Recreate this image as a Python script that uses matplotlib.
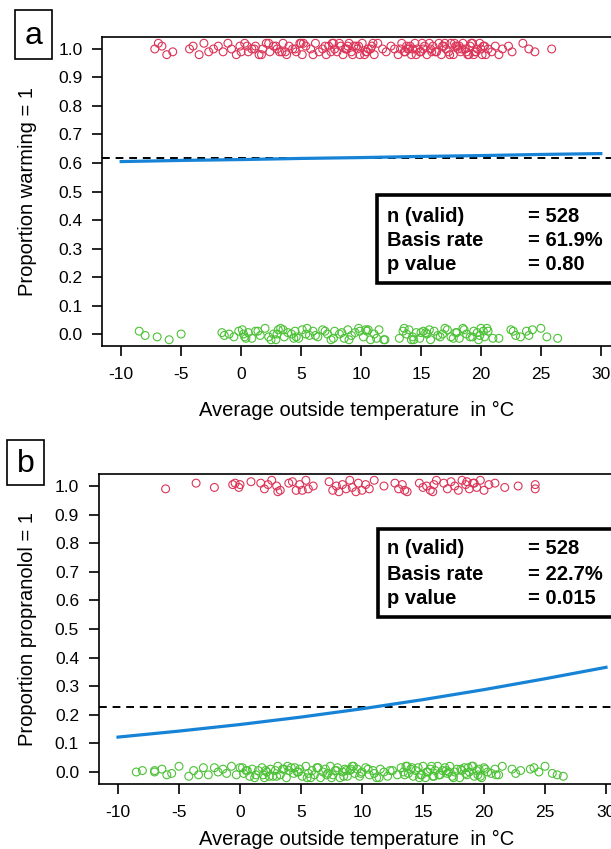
import matplotlib
matplotlib.use("Agg")
from matplotlib import pyplot as plt
from matplotlib.patches import Rectangle
import numpy as np

plt.rcParams['font.family'] = ['Liberation Sans', 'DejaVu Sans']
plt.rcParams['axes.unicode_minus'] = False

W, H = 611, 849

# ---- data ----
# panel a: outcome warming (1 = red, 0 = green); y offsets in hundredths
warm_a_x = [-7.2, -6.9, -6.6, -6.2, -5.7, -4.3, -4.0, -3.5, -3.1, -2.7,
            -2.3, -1.9, -1.5, -1.1, -0.8, -0.4, -0.1, 0.3, 0.6, 0.9,
            1.2, 1.5, 1.8, 2.1, 2.4, 2.7, 3.0, 3.2, 3.5, 3.8,
            4.0, 4.3, 4.6, 4.9, 5.1, 5.4, 5.8, 6.2, 6.5, 6.8,
            7.1, 7.3, 7.6, 7.8, 8.0, 8.3, 8.5, 8.7, 9.0, 9.2,
            9.4, 9.7, 9.9, 10.1, 10.4, 10.6, 10.9, 11.1, 11.4, 11.8,
            12.1, 12.5, 12.8, 13.1, 13.4, 13.6, 13.8, 14.0, 14.2, 14.5,
            14.7, 14.9, 15.1, 15.3, 15.5, 15.8, 16.0, 16.2, 16.5, 16.7,
            16.9, 17.1, 17.3, 17.5, 17.7, 17.9, 18.1, 18.3, 18.5, 18.7,
            18.9, 19.1, 19.3, 19.5, 19.7, 19.9, 20.1, 20.3, 20.6, 20.9,
            21.2, 21.5, 21.8, 22.3, 22.6, 23.5, 24.0, 24.5, 25.9, 8.9,
            3.4, 5.0, 9.6, 10.3, 13.9, 15.0, 17.0, 18.2, 19.4, 20.0,
            0.0, 0.5, 1.1, 1.7, 2.3, 2.9, 3.7, 4.5, 5.2, 6.0,
            7.0, 7.5, 8.2, 8.8, 9.3, 9.8, 10.5, 11.0, 13.3, 13.7,
            14.1, 14.6, 15.2, 15.7, 16.3, 16.8, 17.4, 17.8, 18.4, 18.8,
            19.2, 19.6, 20.2, 20.4, 10.8, 7.7, 15.9, 18.0, 19.0, 14.3]
warm_a_j = [0, 2, 1, -2, -1, 0, 1, -2, 2, -1,
            0, 1, -1, 2, 0, -2, 1, 2, -1, 0,
            1, -2, 0, 2, -1, 1, 0, -1, 2, -2,
            1, 0, -1, 2, -2, 1, 0, 2, -1, 0,
            -2, 1, 2, 0, -1, 1, -2, 0, 2, -1,
            1, 0, -2, 2, -1, 0, 1, -2, 2, 0,
            -1, 1, 0, -2, 2, -1, 1, 0, -2, 2,
            0, -1, 2, 1, -2, 0, 1, -1, 2, -2,
            1, 0, -1, 2, -2, 1, 0, -1, 2, 0,
            -2, 1, 2, -1, 0, 2, -2, 1, 0, -1,
            1, -2, 0, 1, -1, 2, 0, -1, 0, 1,
            -1, 2, 1, -2, 0, -1, 2, 1, -2, 0,
            -1, 1, 0, -2, 2, 1, -1, 0, 2, -2,
            1, -1, 2, 0, -2, 1, -1, 2, 0, -1,
            1, -2, 0, 2, -1, 1, -2, 2, 0, -1,
            2, -1, 1, -2, 0, 2, -1, 1, -2, 0]
cool_a_x = [-8.5, -8.0, -7.0, -6.0, -5.0, -1.6, -1.4, -1.0, -0.6, -0.2,
            0.1, 0.3, 0.6, 0.9, 1.2, 1.6, 2.0, 2.3, 2.7, 2.9,
            3.1, 3.3, 3.6, 3.9, 4.2, 4.5, 4.8, 5.1, 5.4, 5.7,
            6.0, 6.4, 6.8, 7.2, 7.5, 7.8, 8.2, 8.6, 8.9, 9.2,
            9.5, 9.8, 10.2, 10.5, 10.8, 11.1, 11.5, 11.9, 13.2, 13.5,
            13.8, 14.0, 14.3, 14.6, 14.9, 15.2, 15.5, 15.8, 16.1, 16.4,
            16.8, 17.2, 17.5, 17.9, 18.2, 18.5, 18.8, 19.1, 19.4, 19.7,
            20.0, 20.3, 20.6, 21.0, 21.5, 22.5, 22.9, 23.3, 23.8, 24.3,
            25.0, 25.5, 26.4, 3.0, 4.4, 10.6, 14.2, 15.4, 19.9, 0.2,
            0.4, 1.4, 2.5, 3.5, 4.6, 5.5, 6.2, 7.0, 7.7, 8.4,
            9.0, 9.9, 10.4, 11.3, 13.6, 14.4, 15.0, 15.7, 16.6, 17.0,
            17.7, 18.0, 18.6, 19.3, 19.8, 20.2, 20.5, 12.0, 22.7, 24.0]
cool_a_j = [1, -0.5, -1, -2, 0, 0.5, -0.5, 0, -1, 1,
            1.5, -1, 0.5, -1.5, 1, -0.5, 2, -1, 0, -2,
            1.5, 2, -1, 0.5, 0, 1, -1.5, 1.5, 0, -0.5,
            1, -1, 1.5, 0, -2, 1, 0, -1.5, 1.5, -0.5,
            0.5, 2, -1, 1, -2, 0, 1.5, -2, -1.5, 1,
            0, 1.5, -1, 0.5, -1.5, 1, 0, -2, 1, -0.5,
            0, 1.5, -1, 0.5, -1.5, 2, 0, -1, 1, 0.5,
            2, -1, 1, -1.5, -1.5, 1.5, -0.5, -1, 1, 1.5,
            2, -1, -1.5, 0, -1.5, 1.5, -2, 0.5, -0.5, 0,
            -1.5, 1, -2, 1.5, -1, 2, -0.5, 1, -1.5, 0.5,
            -2, 1, 1.5, -1.5, 2, -2, 0.5, 1.5, -1, 2,
            -1.5, 0.5, 1.5, -1, -2, 1, 2, -2, 1, -0.5]

# panel b: outcome propranolol
warm_b_x = [-6.1, -3.6, -2.1, -0.6, -0.4, -0.1, 0.9, 1.7, 2.0, 2.3,
            2.6, 3.0, 3.3, 4.0, 4.3, 4.6, 4.9, 5.4, 5.6, 6.0,
            7.3, 7.6, 7.9, 8.1, 8.4, 8.7, 9.0, 9.2, 9.7, 10.0,
            10.3, 10.6, 11.0, 11.8, 12.7, 13.0, 13.3, 13.7, 14.7, 15.0,
            15.3, 15.6, 15.9, 16.1, 16.7, 17.0, 17.3, 17.6, 17.9, 18.2,
            18.5, 18.8, 19.1, 19.4, 19.7, 20.0, 20.4, 20.9, 21.7, 22.8,
            24.2, 24.2, 5.1, 9.5, 15.8, 18.6, 13.5, 0.0, 3.1, 19.2]
warm_b_j = [-1, 1, -0.5, 0.5, 1, -0.5, 1.5, 1, -1, 0.5,
            2, 0, -1.5, 1, 1.5, -1.5, 0.5, 2, -1, 0,
            1.5, -1.5, 0, -2, 0.5, -1, 2, -0.5, 1, -1.5,
            0.5, -1, 2, 0, 1, -1, 0.5, -2, 1, -0.5,
            0, -1.5, 0.5, 2, 1, -1, 1.5, 0, -1.5, 2,
            0.5, -1, 1, -0.5, 2, -1.5, 0.5, 1, -0.5, 0,
            0.5, -1, -1.5, -2, -2, 1.5, -1.5, 0.5, -2, 1]
cool_b_x = [-8.5, -8.0, -7.0, -7.0, -6.4, -6.0, -5.6, -5.0, -4.2, -3.8,
            -3.4, -3.0, -2.6, -2.1, -1.8, -1.4, -1.1, -0.7, -0.3, 0.0,
            0.3, 0.5, 0.8, 1.0, 1.3, 1.5, 1.8, 2.0, 2.2, 2.5,
            2.7, 2.9, 3.1, 3.3, 3.5, 3.8, 4.0, 4.2, 4.4, 4.7,
            4.9, 5.1, 5.4, 5.6, 5.9, 6.1, 6.3, 6.6, 6.8, 7.0,
            7.2, 7.4, 7.6, 7.8, 8.0, 8.2, 8.4, 8.6, 8.8, 9.0,
            9.2, 9.4, 9.6, 9.8, 10.0, 10.3, 10.6, 10.9, 11.2, 11.5,
            11.8, 12.1, 12.5, 12.9, 13.2, 13.4, 13.6, 13.8, 14.0, 14.2,
            14.4, 14.6, 14.8, 15.0, 15.2, 15.4, 15.6, 15.8, 16.0, 16.2,
            16.4, 16.6, 16.8, 17.0, 17.2, 17.4, 17.6, 17.8, 18.0, 18.2,
            18.4, 18.6, 18.8, 19.0, 19.2, 19.4, 19.6, 19.8, 20.0, 20.3,
            20.6, 20.9, 21.2, 21.5, 22.3, 22.6, 23.0, 23.8, 24.1, 24.5,
            25.0, 25.6, 26.0, 26.5, 2.4, 3.6, 7.5, 8.7, 14.9, 18.7,
            0.6, 1.9, 4.5, 5.8, 9.1, 11.0, 13.7, 15.9, 17.1, 19.5,
            0.2, 1.2, 2.1, 3.0, 3.9, 4.8, 5.5, 6.4, 7.1, 7.9,
            8.5, 9.3, 9.9, 10.5, 11.4, 12.3, 13.5, 14.1, 14.7, 15.3,
            15.7, 16.3, 16.9, 17.5, 18.1, 18.5, 19.1, 19.7, 20.1, 21.0]
cool_b_j = [0, 0.5, 0.5, 0, 1, -1, -0.5, 2, -1.5, 0.5,
            -1, 1.5, -1, 1.5, 0, 1, -0.5, 2, -1, 1.5,
            -0.5, 0.5, -1.5, 1, -1, 0.5, 1.5, -2, 0, 1,
            -1.5, 0.5, 2, -1, 1, -2, 0.5, 1.5, -0.5, 0,
            1, -1.5, 2, -0.5, 0.5, -1, 1.5, -2, 0, 1,
            -0.5, 2, -1, 0.5, 1.5, -2, 0, 1, -1.5, 0.5,
            2, -0.5, 1, -1.5, 0, 1.5, -1, 0.5, -2, 1,
            0, -1.5, 0.5, -1, 1.5, 0, 2, -0.5, 1, -1.5,
            0.5, 1.5, -1, 2, -2, 0, 1, -1.5, 0.5, 2,
            -1, 0.5, 1.5, -0.5, 2, -1.5, 0, 1, -2, 0.5,
            1.5, -1, 0, 2, -1.5, 0.5, 1, -2, 1.5, 0,
            -0.5, 1, -1, 2, 1, -0.5, 0.5, 1, 1.5, 0,
            2, -0.5, -1, -1.5, -1.5, 1, -2, 0.5, -1, 1.5,
            0.5, -1, 1.5, -2, 1, -0.5, 2, -1.5, 0, -1,
            1.5, -2, 0.5, -1.5, 2, 0, -2, 1.5, -1, 0.5,
            -1.5, 2, -0.5, 1, -2, 0.5, -1, 1.5, -2, 0,
            2, -1, 0.5, -2, 1, -0.5, 2, -1.5, 1, -1]

# fitted curves
curve_x = [-10, -5, 0, 5, 10, 15, 20, 25, 30]
curve_a_y = [0.605, 0.609, 0.612, 0.616, 0.619, 0.623, 0.626, 0.630, 0.633]
curve_b_y = [0.122, 0.143, 0.166, 0.192, 0.221, 0.253, 0.288, 0.326, 0.366]

basis_a = 0.619
basis_b = 0.227

stats_labels = ["n (valid)", "Basis rate", "p value"]
stats_a = ["= 528", "= 61.9%", "= 0.80"]
stats_b = ["= 528", "= 22.7%", "= 0.015"]

xticks = [-10, -5, 0, 5, 10, 15, 20, 25, 30]
yticks = [0.0, 0.1, 0.2, 0.3, 0.4, 0.5, 0.6, 0.7, 0.8, 0.9, 1.0]

RED = "#dc3458"
GREEN = "#4cc236"
BLUE = "#1683d6"


def fx(px):
    return px / W


def fy(py):
    return 1 - py / H


fig = plt.figure(figsize=(W / 100, H / 100), dpi=100)


def panel(left, right, top, bottom, wx, wj, cx, cj, cy, basis, stats,
          letter, box, ylab, xlab_y, lbox, ly):
    ax = fig.add_axes([fx(left), fy(bottom), fx(right) - fx(left),
                       fy(top) - fy(bottom)])
    ax.set_xlim(-11.6, 31.6)
    ax.set_ylim(-0.042, 1.042)
    ax.scatter(wx, 1 + np.array(wj) / 100, s=32, facecolors='none',
               edgecolors=RED, linewidths=0.8, zorder=2)
    ax.scatter(cx, np.array(cj) / 100, s=32, facecolors='none',
               edgecolors=GREEN, linewidths=0.8, zorder=2)
    ax.axhline(basis, color='black', lw=1.4, ls=(0, (4, 3)), zorder=3)
    ax.plot(curve_x, cy, color=BLUE, lw=2.3, zorder=4)
    ax.set_xticks(xticks)
    ax.set_yticks(yticks)
    ax.set_yticklabels(["%.1f" % v for v in yticks])
    ax.tick_params(direction='out', length=7, width=1.2, labelsize=12.5,
                   colors='black')
    ax.tick_params(axis='x', pad=8)
    ax.tick_params(axis='y', pad=7)
    for s in ax.spines.values():
        s.set_linewidth(1.2)
    # ylabel and xlabel
    fig.text(fx(28), fy((top + bottom) / 2), ylab, rotation=90,
             ha='center', va='center', fontsize=14.5)
    fig.text(fx(357), fy(xlab_y), "Average outside temperature  in \u00b0C",
             ha='center', va='center', fontsize=14.5)
    # letter box
    bx0, by0, bx1, by1 = box
    fig.patches.append(Rectangle((fx(bx0), fy(by1)), fx(bx1) - fx(bx0),
                                 fy(by0) - fy(by1), transform=fig.transFigure,
                                 fill=False, lw=1.2, ec='black'))
    fig.text(fx((bx0 + bx1) / 2), fy((by0 + by1) / 2 + 1), letter,
             ha='center', va='center', fontsize=23)
    # stats box
    l, t, b = lbox
    fig.patches.append(Rectangle((fx(l), fy(b)), fx(660) - fx(l),
                                 fy(t) - fy(b), transform=fig.transFigure,
                                 fill=True, fc='white', lw=2.6, ec='black',
                                 zorder=5))
    for i in range(3):
        fig.text(fx(387), fy(ly[i]), stats_labels[i], ha='left', va='center',
                 fontsize=14.5, fontweight='bold', zorder=6)
        fig.text(fx(528), fy(ly[i]), stats[i], ha='left', va='center',
                 fontsize=14.5, fontweight='bold', zorder=6)
    return ax


panel(102, 620, 37, 346, warm_a_x, warm_a_j, cool_a_x, cool_a_j,
      curve_a_y, basis_a, stats_a, "a", (15, 10, 52, 59),
      "Proportion warming = 1", 410, (377, 195, 283), (216, 240, 264))
panel(98.5, 625.5, 474, 784, warm_b_x, warm_b_j, cool_b_x, cool_b_j,
      curve_b_y, basis_b, stats_b, "b", (7, 440, 44, 485),
      "Proportion propranolol = 1", 839, (378, 529, 617), (549, 575, 599))

fig.savefig("out.png", dpi=100)
